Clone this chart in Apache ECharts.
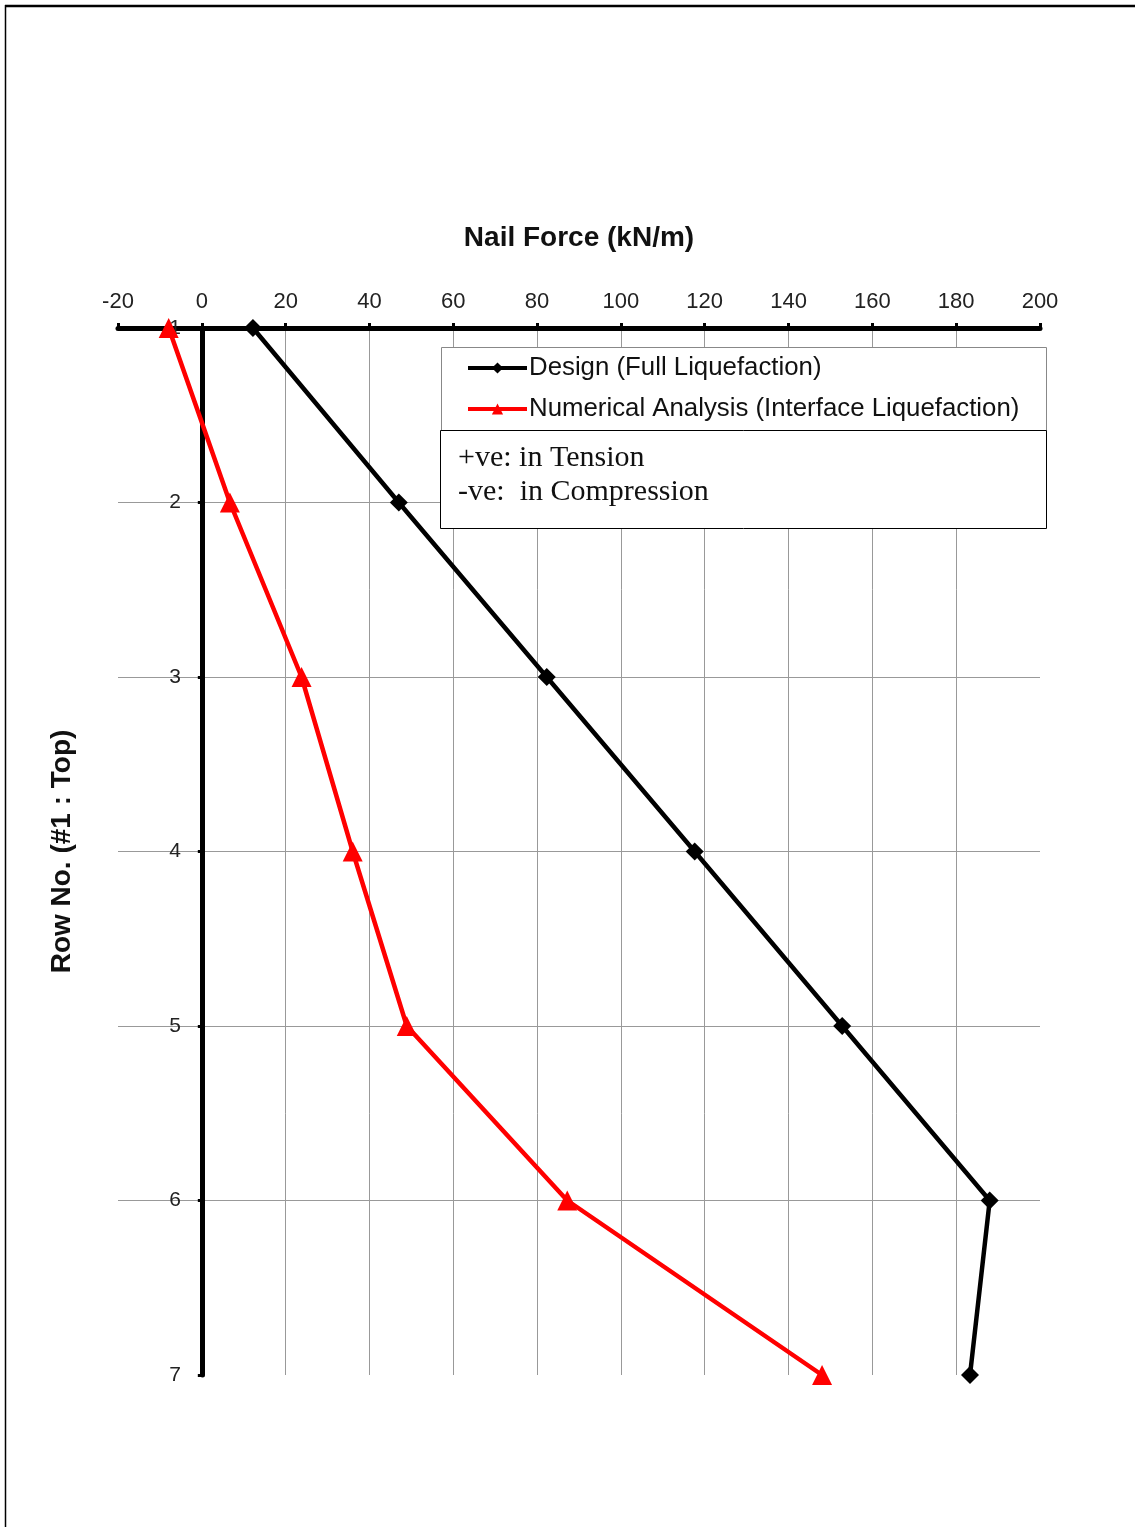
<!DOCTYPE html>
<html>
<head>
<meta charset="utf-8">
<script src="https://cdn.jsdelivr.net/npm/echarts@6/dist/echarts.min.js"></script>
<style>
  html, body { margin: 0; padding: 0; background: #fff; }
  #chart { width: 1135px; height: 1527px; }
</style>
</head>
<body>
<div id="chart"></div>
<script>
// ---- data ----
const rows = [1, 2, 3, 4, 5, 6, 7];
const designForce = [12.2, 47, 82.3, 117.6, 152.8, 188, 183.3];
const numericalForce = [-7.9, 6.7, 23.8, 36, 48.9, 87.2, 148];
const seriesNames = ['Design (Full Liquefaction)', 'Numerical Analysis (Interface Liquefaction)'];
const noteLines = ['+ve: in Tension', '-ve:  in Compression'];
const xTitle = 'Nail Force (kN/m)';
const yTitle = 'Row No. (#1 : Top)';

const chart = echarts.init(document.getElementById('chart'), null, { renderer: 'canvas' });

const toPairs = (vals) => vals.map((v, i) => [v, rows[i]]);
const font = '"Liberation Sans", Arial, sans-serif';
const serif = '"Liberation Serif", "Times New Roman", serif';

const legendCommon = {
  left: 466, padding: 0, itemWidth: 59, itemHeight: 14,
  lineStyle: { width: 4 },
  textStyle: { fontFamily: font, fontSize: 25.8, color: '#111', lineHeight: 30, padding: [0, 0, 0, -3] },
  z: 10
};

const option = {
  backgroundColor: '#fff',
  animation: false,
  grid: { left: 118, right: 95, top: 328, bottom: 152, containLabel: false, outerBoundsMode: 'none' },
  xAxis: {
    type: 'value', position: 'top', min: -20, max: 200, interval: 20,
    name: xTitle, nameLocation: 'middle', nameGap: 76,
    nameTextStyle: { fontFamily: font, fontSize: 28, fontWeight: 'bold', color: '#111' },
    axisLine: { onZero: false, lineStyle: { color: '#000', width: 5 } },
    axisTick: { show: true, length: 5, lineStyle: { color: '#000', width: 3 } },
    axisLabel: { fontFamily: font, fontSize: 22, color: '#222', margin: 15 },
    splitLine: { show: true, showMinLine: false, showMaxLine: false, lineStyle: { color: '#999', width: 1 } }
  },
  yAxis: {
    type: 'value', inverse: true, min: 1, max: 7, interval: 1,
    name: yTitle, nameLocation: 'middle', nameGap: 42, nameRotate: 90,
    nameTextStyle: { fontFamily: font, fontSize: 28, fontWeight: 'bold', color: '#111' },
    axisLine: { onZero: true, lineStyle: { color: '#000', width: 5 } },
    axisTick: { show: true, length: 4, lineStyle: { color: '#000', width: 3 } },
    axisLabel: { fontFamily: font, fontSize: 21, color: '#222', margin: -63 },
    splitLine: { show: true, showMinLine: false, showMaxLine: false, lineStyle: { color: '#999', width: 1 } }
  },
  legend: [
    Object.assign({}, legendCommon, { data: [seriesNames[0]], top: 353 }),
    Object.assign({}, legendCommon, { data: [seriesNames[1]], top: 394 })
  ],
  series: [
    {
      name: seriesNames[0], type: 'line', data: toPairs(designForce),
      symbol: 'diamond', symbolSize: 18,
      lineStyle: { color: '#000', width: 4.5 }, itemStyle: { color: '#000' }, z: 3
    },
    {
      name: seriesNames[1], type: 'line', data: toPairs(numericalForce),
      symbol: 'triangle', symbolSize: 20,
      lineStyle: { color: '#f00', width: 4.5 }, itemStyle: { color: '#f00' }, z: 3
    }
  ],
  graphic: [
    // page frame
    { type: 'line', shape: { x1: 5, y1: 6, x2: 1135, y2: 6 }, style: { stroke: '#000', lineWidth: 2.5 }, z: 20 },
    { type: 'line', shape: { x1: 5.5, y1: 5, x2: 5.5, y2: 1527 }, style: { stroke: '#000', lineWidth: 1.5 }, z: 20 },
    // legend box
    { type: 'rect', shape: { x: 441.5, y: 347.5, width: 605, height: 83 }, style: { fill: '#fff', stroke: '#888', lineWidth: 1 }, z: 5 },
    // note box
    { type: 'rect', shape: { x: 440.5, y: 430.5, width: 606, height: 98 }, style: { fill: '#fff', stroke: '#000', lineWidth: 1 }, z: 5 },
    { type: 'text', left: 458, top: 443, style: { text: noteLines[0], font: '30px ' + serif, fill: '#111' }, z: 6 },
    { type: 'text', left: 458, top: 477, style: { text: noteLines[1], font: '30px ' + serif, fill: '#111' }, z: 6 }
  ]
};

chart.setOption(option);
</script>
</body>
</html>
